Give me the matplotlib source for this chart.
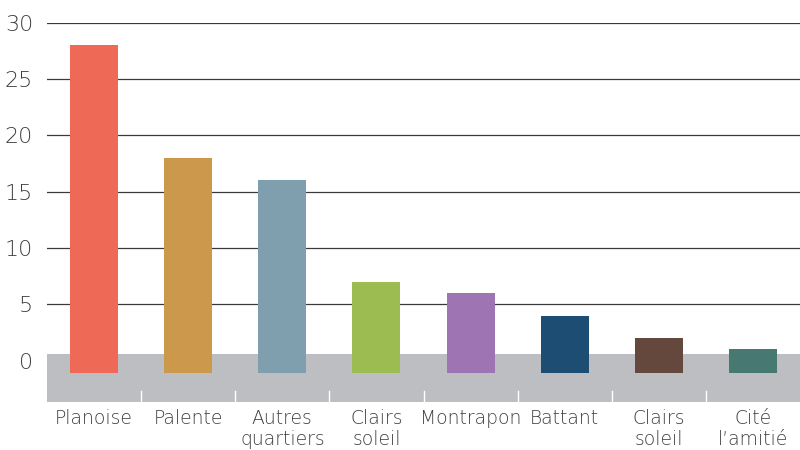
import matplotlib.pyplot as plt

# Data
categories = ['Planoise', 'Palente', 'Autres\nquartiers', 'Clairs\nsoleil', 'Montrapon',
              'Battant', 'Clairs\nsoleil', 'Cité\nl’amitié']
values = [28, 18, 16, 7, 6, 4, 2, 1]
colors = ['#EE6A57', '#CB984C', '#7F9EAE', '#9CBB51', '#9E74B2', '#1E4D74', '#65483D', '#477871']
yticks = [0, 5, 10, 15, 20, 25, 30]

bar_base = -1.06
band_top = 0.6
band_bottom = -3.64

fig = plt.figure(figsize=(8, 4.5), dpi=100)
ax = fig.add_axes([47 / 800, (450 - 401.7) / 450, 753 / 800, 379 / 450])

ax.set_xlim(-0.5, len(categories) - 0.5)
ax.set_ylim(band_bottom, 30)

# Gridlines
for t in yticks[1:]:
    ax.axhline(t, color='#3a3a3a', linewidth=0.9, zorder=1)

# Gray band under the zero line
ax.axhspan(band_bottom, band_top, color='#BDBEC1', zorder=2, linewidth=0)

# Category separators
for i in range(len(categories) - 1):
    ax.plot([i + 0.5, i + 0.5], [band_bottom, -2.69], color='white', linewidth=1, zorder=3)

# Bars
x = range(len(categories))
ax.bar(x, [v - bar_base for v in values], bottom=bar_base, width=0.51,
       color=colors, zorder=4)

# Axis labels
ax.set_yticks(yticks)
ax.set_yticklabels([str(t) for t in yticks], fontsize=16, color='#3f3f3f', fontweight='light')
ax.tick_params(axis='y', length=0, pad=10)
ax.set_xticks(list(x))
ax.set_xticklabels(categories, fontsize=13.5, color='#3f3f3f', linespacing=1.15,
                   fontweight='light')
ax.tick_params(axis='x', length=0, pad=5)

for s in ax.spines.values():
    s.set_visible(False)

fig.savefig('out.png', dpi=100)
